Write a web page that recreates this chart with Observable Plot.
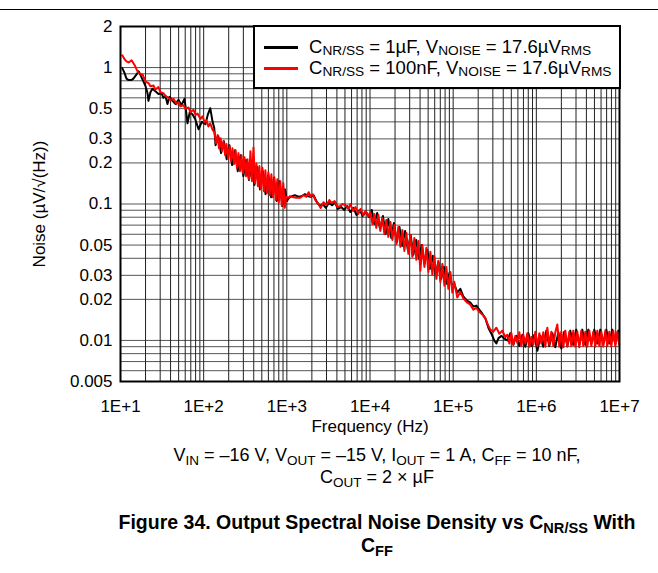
<!DOCTYPE html>
<html>
<head>
<meta charset="utf-8">
<script src="https://cdn.jsdelivr.net/npm/d3@7"></script>
<script src="https://cdn.jsdelivr.net/npm/@observablehq/plot@0.6"></script>
<style>
  body { margin: 0; background: #fff; }
  #wrap { position: relative; width: 658px; height: 573px; font-family: "Liberation Sans", Arial, sans-serif; color: #000; background: #fff; overflow: hidden; }
  #topline { position: absolute; left: 0; top: 9px; width: 658px; height: 1px; background: #000; }
  #chart { position: absolute; left: 0; top: 0; }
  #legend { position: absolute; left: 253px; top: 25px; width: 364px; height: 60px; border: 2px solid #000; background: #fff; font-size: 18.5px; }
  #legend .row { position: absolute; left: 9px; height: 20px; line-height: 20px; white-space: nowrap; }
  #legend .swatch { display: inline-block; width: 34px; height: 3px; vertical-align: middle; margin-right: 11px; position: relative; top: -1px; }
  #legend .sub { font-size: 0.74em; top: 0.18em; line-height: 0; }
  .sub { font-size: 0.75em; position: relative; top: 0.3em; }
  .cap { position: absolute; left: 48px; width: 658px; text-align: center; font-size: 18px; line-height: 22px; white-space: nowrap; }
  .ttl { font-weight: bold; font-size: 19.5px; line-height: 23px; }
</style>
</head>
<body>
<div id="wrap">
  <div id="topline"></div>
  <div id="chart"></div>
  <div id="legend"></div>
  <div class="cap" style="top:444px">V<span class="sub">IN</span> = –16 V, V<span class="sub">OUT</span> = –15 V, I<span class="sub">OUT</span> = 1 A, C<span class="sub">FF</span> = 10 nF,</div>
  <div class="cap" style="top:466px">C<span class="sub">OUT</span> = 2 × µF</div>
  <div class="cap ttl" style="top:511px">Figure 34. Output Spectral Noise Density vs C<span class="sub">NR/SS</span> With</div>
  <div class="cap ttl" style="top:534px">C<span class="sub">FF</span></div>
</div>
<script>
// ---- tick labels ----
const xTickValues = [1e1, 1e2, 1e3, 1e4, 1e5, 1e6, 1e7];
const xTickLabels = ["1E+1", "1E+2", "1E+3", "1E+4", "1E+5", "1E+6", "1E+7"];
const yTickValues = [0.005, 0.01, 0.02, 0.03, 0.05, 0.1, 0.2, 0.3, 0.5, 1, 2];
const yTickLabels = ["0.005", "0.01", "0.02", "0.03", "0.05", "0.1", "0.2", "0.3", "0.5", "1", "2"];

// ---- series: [frequency Hz, noise µV/√Hz] ----
const seriesNames = ["1µF", "100nF"];
const seriesColors = ["#000000", "#ff0000"];

const blackSeries = [
  [10.5,0.99],[11.2,0.91],[11.8,0.83],[12.5,0.81],[13.6,0.81],[14.3,0.83],[15.6,0.89],[16.5,0.94],[17.4,0.88],[18.9,0.79],
  [20,0.73],[21.1,0.65],[21.7,0.57],[22.9,0.66],[24.2,0.70],[26.3,0.67],[28.6,0.64],[31.1,0.65],[32.8,0.60],[34.7,0.62],
  [36.7,0.54],[38.8,0.61],[42.2,0.57],[45.9,0.54],[49.8,0.58],[54.1,0.53],[57.2,0.57],[58.8,0.59],[61,0.50],[63.9,0.39],
  [68,0.47],[73.4,0.455],[79,0.42],[86.8,0.353],[95,0.40],[105,0.384],[112,0.45],[120,0.504],[128,0.40],[134,0.36],
  [139,0.270],[150,0.314],[162,0.236],[175,0.289],[189,0.213],[204,0.270],[220,0.193],[238,0.248],[257,0.174],[278,0.228],
  [300,0.160],[324,0.210],[350,0.150],[378,0.196],[408,0.138],[441,0.187],[476,0.128],[514,0.174],[555,0.118],[600,0.163],
  [648,0.112],[700,0.155],[756,0.105],[816,0.147],[882,0.0967],[952,0.128],
  [1000,0.105],[1060,0.111],[1150,0.114],[1250,0.116],[1380,0.113],[1500,0.114],[1650,0.118],[1800,0.114],[1950,0.113],[2100,0.116],
  [2300,0.103],[2500,0.0967],[2700,0.100],[2950,0.0937],[3200,0.102],[3500,0.098],[3800,0.103],[4100,0.092],[4500,0.095],[4900,0.0904],
  [5300,0.0967],[5800,0.0874],[6300,0.0937],[6900,0.0831],[7500,0.0904],[8200,0.0817],[9000,0.0874],[9700,0.0803],
  [10500,0.0904],[11300,0.0714],[12200,0.0859],[13200,0.0657],[14300,0.0817],[15400,0.0603],[16600,0.0777],[18000,0.0564],[19400,0.0726],[21000,0.0527],
  [22600,0.0679],[24400,0.0493],[26400,0.0635],[28500,0.0461],[30800,0.0593],[33200,0.0424],[35900,0.0545],[38800,0.0396],[41900,0.0501],[45200,0.0364],
  [48800,0.0461],[52700,0.0335],[56900,0.0417],[61500,0.0303],[66400,0.0377],[71700,0.0283],[77500,0.0346],[83700,0.0260],[90400,0.0313],[97600,0.0243],
  [103000,0.0260],[112000,0.0224],[122000,0.0239],[133000,0.0209],[148000,0.0195],[161000,0.0189],[175000,0.0177],[190000,0.0180],[206000,0.0168],[224000,0.0157],
  [244000,0.0145],[265000,0.0124],[288000,0.0112],[313000,0.00995],[331000,0.0095],[351000,0.0104],[381000,0.0108],[414000,0.0103],
  [448000,0.0100],[487000,0.0113],[529000,0.0093],[575000,0.0108],[625000,0.0091],[679000,0.0110],[738000,0.0090],[802000,0.0113],[871000,0.0091],[946000,0.0110],
  [1030000,0.0084],[1120000,0.0108],[1210000,0.0090],[1320000,0.0118],[1430000,0.0091],[1560000,0.0113],[1690000,0.0089],[1840000,0.0115],[2000000,0.0087],[2170000,0.0116],
  [2360000,0.0091],[2560000,0.0118],[2780000,0.0093],[3020000,0.0120],[3290000,0.0093],[3570000,0.0120],[3880000,0.0093],[4220000,0.0120],[4580000,0.0095],[4980000,0.0120],
  [5410000,0.0095],[5880000,0.0120],[6390000,0.0095],[6940000,0.0120],[7540000,0.0095],[8190000,0.0120],[8900000,0.0095],[9670000,0.0118]
];

const redSeries = [
  [10.5,1.23],[11.2,1.15],[11.8,1.11],[12.5,1.09],[13.6,1.13],[14.7,1.05],[15.6,0.97],[16.5,0.91],[18.4,0.89],[20,0.79],
  [21.7,0.77],[22.9,0.73],[24.9,0.74],[26.3,0.69],[28.6,0.72],[30.2,0.66],[32.8,0.65],[34.7,0.62],[37.8,0.60],[39.9,0.58],
  [43.4,0.59],[47.1,0.54],[49.8,0.56],[52.6,0.52],[57.2,0.53],[60.4,0.50],[65.7,0.51],[69.4,0.47],[75.5,0.49],[79.8,0.45],
  [84.3,0.46],[91.6,0.42],[96.8,0.44],[102,0.40],[108,0.41],[114,0.37],[120,0.39],[128,0.35],
  [135,0.336],[141,0.279],[147,0.320],[153,0.256],[160,0.303],[166,0.244],[173,0.289],[181,0.228],[188,0.275],[196,0.216],
  [205,0.265],[213,0.206],[222,0.256],[232,0.196],[242,0.248],[252,0.184],[262,0.236],[273,0.174],[285,0.228],[297,0.168],
  [310,0.220],[323,0.160],[336,0.213],[351,0.152],[365,0.244],[381,0.147],[397,0.26],[414,0.142],[431,0.198],[449,0.135],
  [468,0.190],[488,0.128],[509,0.184],[530,0.124],[552,0.177],[576,0.120],[600,0.171],[625,0.116],[652,0.165],[679,0.112],
  [708,0.157],[738,0.107],[769,0.152],[801,0.103],[835,0.147],[870,0.0967],[907,0.142],[945,0.0937],[985,0.113],
  [1040,0.111],[1090,0.114],[1200,0.112],[1300,0.111],[1450,0.111],[1580,0.116],[1720,0.113],[1830,0.122],[1920,0.114],[2050,0.118],
  [2200,0.107],[2400,0.100],[2550,0.0935],[2760,0.103],[3000,0.0983],[3250,0.107],[3450,0.102],[3750,0.105],[4050,0.095],[4400,0.0967],
  [4650,0.100],[5050,0.098],[5500,0.092],[5800,0.100],[6250,0.0889],[6700,0.095],[7250,0.0846],[7700,0.092],[8300,0.083],[8800,0.0889],[9600,0.0817],
  [10100,0.0874],[10700,0.0714],[11300,0.0845],[11900,0.0668],[12600,0.0831],[13300,0.0635],[14100,0.0790],[14900,0.0603],[15700,0.0764],[16600,0.0574],
  [17600,0.0739],[18600,0.0545],[19600,0.0702],[20800,0.0510],[21900,0.0679],[23200,0.0485],[24500,0.0646],[25900,0.0453],[27400,0.0614],[28900,0.0431],
  [30600,0.0593],[32300,0.0410],[34200,0.0564],[36100,0.0390],[38200,0.0536],[40300,0.0324],[42600,0.0501],[45100,0.0346],[47600,0.0477],[50300,0.0318],
  [53200,0.0446],[56200,0.0303],[59400,0.0417],[62800,0.0283],[66400,0.0383],[70200,0.0269],[74200,0.0364],[78400,0.0252],[82800,0.0346],[87600,0.0239],
  [92500,0.0318],[97800,0.0224],[103000,0.0269],
  [112000,0.0206],[122000,0.0227],[133000,0.0203],[148000,0.0189],[161000,0.0183],[175000,0.0168],[190000,0.0173],[206000,0.0162],[224000,0.0155],[244000,0.0145],
  [265000,0.0128],[280000,0.0120],[304000,0.0116],[331000,0.0124],[359000,0.0112],[390000,0.0118],[424000,0.0106],
  [448000,0.0110],[474000,0.0095],[501000,0.0113],[529000,0.0093],[559000,0.0108],[591000,0.0096],[625000,0.0115],[660000,0.0091],[698000,0.0110],[738000,0.0095],
  [780000,0.0113],[824000,0.0090],[871000,0.0106],[920000,0.0093],[973000,0.0116],[1030000,0.0091],[1087000,0.0113],[1148000,0.0095],[1214000,0.0115],[1283000,0.0090],
  [1356000,0.0124],[1433000,0.0093],[1515000,0.0116],[1601000,0.0091],[1692000,0.0115],[1788000,0.0131],[1890000,0.0090],[1998000,0.0116],[2111000,0.0089],[2231000,0.0118],
  [2358000,0.0090],[2492000,0.0116],[2634000,0.0091],[2784000,0.0118],[2943000,0.0090],[3110000,0.0116],[3287000,0.0089],[3474000,0.0118],[3672000,0.0091],[3881000,0.0116],
  [4102000,0.0090],[4335000,0.0118],[4582000,0.0091],[4843000,0.0116],[5119000,0.0090],[5410000,0.0118],[5718000,0.0091],[6044000,0.0116],[6388000,0.0090],[6751000,0.0118],
  [7136000,0.0091],[7542000,0.0116],[7971000,0.0090],[8425000,0.0118],[8905000,0.0091],[9411000,0.0116],[9945000,0.0093]
];

// ---- legend text parts ----
const legendCnr = ["1µF", "100nF"];
const legendVnoise = ["17.6", "17.6"];

const toRows = (arr, s) => arr.map(([f, v]) => ({f, v, s}));
const blackData = toRows(blackSeries, seriesNames[0]);
const redData = toRows(redSeries, seriesNames[1]);

const xGrid = d3.scaleLog().domain([10, 1e7]).ticks();
const yGrid = d3.scaleLog().domain([0.005, 2]).ticks();
const labelFor = (vals, labs) => d => {
  const i = vals.findIndex(v => Math.abs(Math.log10(v) - Math.log10(d)) < 1e-6);
  return i >= 0 ? labs[i] : "";
};

const chart = Plot.plot({
  width: 658,
  height: 440,
  marginLeft: 120,
  marginRight: 39,
  marginTop: 26,
  marginBottom: 59,
  style: { fontFamily: "'Liberation Sans', Arial, sans-serif", fontSize: "17px", color: "#000", background: "transparent", overflow: "visible" },
  x: { type: "log", domain: [10, 1e7], label: "Frequency (Hz)", labelAnchor: "center", labelArrow: "none" },
  y: { type: "log", domain: [0.005, 2], label: "Noise (µV/√(Hz))", labelAnchor: "center", labelArrow: "none" },
  marks: [
    Plot.ruleY(yGrid, { stroke: "#555", strokeWidth: 1 }),
    Plot.ruleX(xGrid, { stroke: "#222", strokeWidth: 1 }),
    Plot.axisX(xTickValues, { text: labelFor(xTickValues, xTickLabels), tickSize: 0, tickPadding: 18,
      label: "Frequency (Hz)", labelAnchor: "center", labelOffset: 50, labelArrow: "none" }),
    Plot.axisY(yTickValues, { text: labelFor(yTickValues, yTickLabels), tickSize: 0, tickPadding: 8,
      label: "Noise (µV/√(Hz))", labelAnchor: "center", labelOffset: 88, labelArrow: "none" }),
    Plot.line(blackData, { x: "f", y: "v", stroke: seriesColors[0], strokeWidth: 2 }),
    Plot.line(redData, { x: "f", y: "v", stroke: seriesColors[1], strokeWidth: 2 }),
    Plot.frame({ stroke: "#000", strokeWidth: 2 })
  ]
});
document.getElementById("chart").appendChild(chart);

// legend
const legend = document.getElementById("legend");
seriesNames.forEach((n, i) => {
  const row = document.createElement("div");
  row.className = "row";
  row.style.top = (i === 0 ? 10 : 31) + "px";
  row.innerHTML = `<span class="swatch" style="background:${seriesColors[i]}"></span>C<span class="sub">NR/SS</span> = ${legendCnr[i]}, V<span class="sub">NOISE</span> = ${legendVnoise[i]}µV<span class="sub">RMS</span>`;
  legend.appendChild(row);
});
</script>
</body>
</html>
